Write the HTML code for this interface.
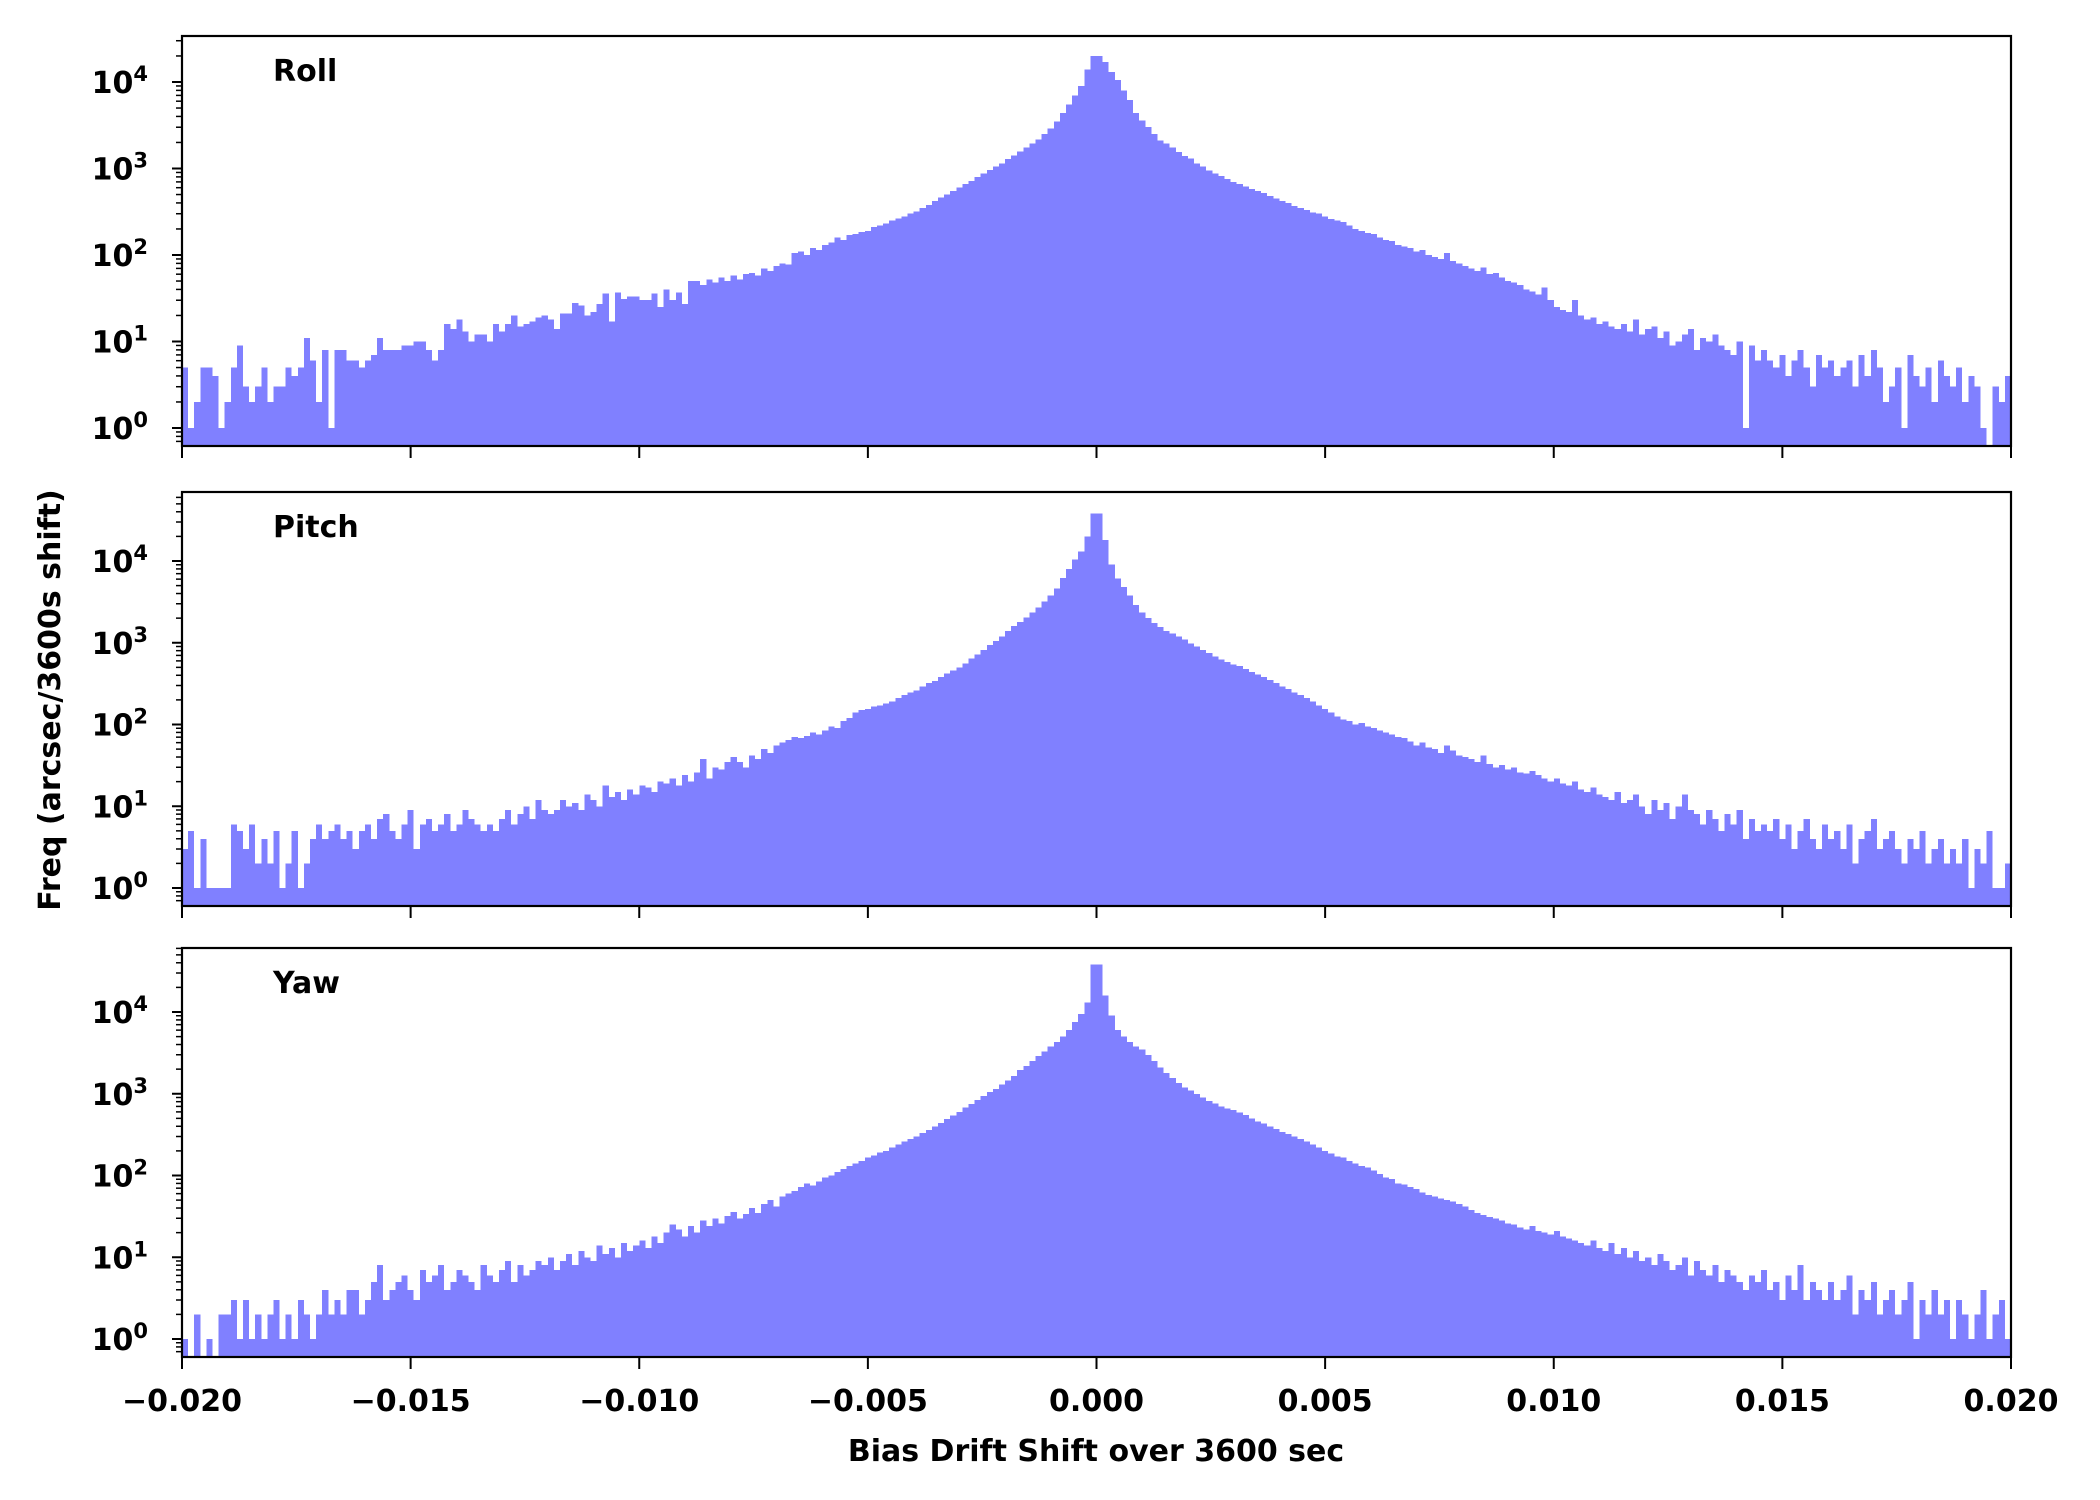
<!DOCTYPE html>
<html><head><meta charset="utf-8"><style>
html,body{margin:0;padding:0;background:#fff}
svg{display:block}
text{font-family:"DejaVu Sans","Liberation Sans",sans-serif;font-weight:bold;fill:#000}
</style></head><body>
<svg id="chart" width="2100" height="1500" viewBox="0 0 2100 1500" xmlns="http://www.w3.org/2000/svg">
<text x="1096" y="1461" font-size="30" text-anchor="middle">Bias Drift Shift over 3600 sec</text>
<text x="0" y="0" font-size="30" text-anchor="middle" transform="translate(60,700) rotate(-90)">Freq (arcsec/3600s shift)</text>
</svg>
<script>
const xTicks = [-0.020,-0.015,-0.010,-0.005,0.000,0.005,0.010,0.015,0.020];
const xTickLabels = ["\u22120.020","\u22120.015","\u22120.010","\u22120.005","0.000","0.005","0.010","0.015","0.020"];
const binCount = 300;
const xMin = -0.02, xMax = 0.02;
const yTickExps = [0,1,2,3,4];
const panelNames = ["Roll","Pitch","Yaw"];
const rollCounts = [5,1,2,5,5,4,1,2,5,9,3,2,3,5,2,3,3,5,4,5,11,6,2,8,1,8,8,6,6,5,6,7,11,8,8,8,9,9,10,10,8,6,8,16,14,18,13,10,12,12,10,16,13,16,20,15,16,17,19,20,18,14,21,21,28,26,20,22,27,36,17,37,31,33,33,30,30,36,25,40,30,37,27,50,50,
45,52,48,55,50,58,52,60,62,58,70,65,75,80,78,
105,110,100,120,115,130,140,160,150,170,175,185,190,210,220,
230,250,265,280,300,320,350,380,420,460,500,550,600,660,720,
800,880,960,1050,1150,1280,1420,1580,1750,1950,2150,2500,2900,3500,4400,
5500,7000,9000,14000,20000,
20000,17000,13000,10500,8000,6200,4400,3600,3000,2500,
2100,1950,1750,1550,1400,1300,1150,1050,950,880,
820,760,700,660,620,580,550,520,480,450,
420,400,370,350,330,310,300,280,260,250,
240,220,200,190,180,175,160,150,145,130,
125,120,110,115,100,95,90,105,85,80,
75,70,65,72,60,62,55,50,48,45,
40,38,35,42,30,25,23,22,30,20,
18,19,16,17,15,14,16,13,18,12,
14,15,11,13,9,10,12,14,8,11,
10,12,9,8,7,10,1,9,6,8,
6,5,7,4,6,8,5,3,7,5,
6,4,5,6,3,7,4,8,5,2,
3,5,1,7,4,3,5,2,6,4,
3,5,2,4,3,1,0,3,2,4];
const pitchCounts = [3,5,1,4,1,1,1,1,6,5,3,6,2,4,2,5,1,2,5,1,2,4,6,4,5,6,4,5,3,5,6,4,7,8,5,4,6,9,3,6,7,5,6,8,5,6,9,7,6,5,6,5,7,9,6,8,10,7,12,9,8,9,12,10,11,9,14,12,10,18,13,15,12,16,14,18,17,15,20,19,22,18,24,20,26,38,22,30,28,35,40,35,30,42,38,50,45,55,60,65,
70,68,72,80,75,85,95,90,110,120,140,150,155,165,170,180,190,210,230,245,260,290,320,340,380,420,460,500,560,640,720,820,940,1050,1200,1400,1600,1800,2050,2350,2700,3200,3800,4600,6200,8000,10500,13000,20000,38000,
38000,18000,9000,6100,4800,3800,2900,2350,2000,1750,1550,1400,1300,1200,1100,980,900,820,750,680,620,580,540,520,480,440,410,380,350,320,290,270,245,230,210,190,170,155,140,125,115,110,100,105,95,90,85,80,75,70,
68,62,55,60,52,50,45,55,48,42,40,38,35,42,33,30,32,28,30,26,25,27,24,22,20,22,19,18,20,16,15,17,14,13,12,15,11,12,14,10,8,12,9,11,7,10,14,9,8,6,9,7,5,8,6,9,4,7,5,6,5,7,4,6,3,5,7,4,3,6,4,5,3,6,2,4,5,7,3,4,5,3,2,4,3,5,2,3,4,2,3,2,4,1,3,2,5,1,1,2];
const yawCounts = [1,0,2,0,1,0,2,2,3,1,3,1,2,1,2,3,1,2,1,3,2,1,2,4,2,3,2,4,4,2,3,5,8,3,4,5,6,4,3,7,5,6,8,4,5,7,6,5,4,8,6,5,7,9,5,8,6,7,9,8,10,7,9,11,8,12,10,9,14,11,13,10,15,12,14,16,13,18,15,20,25,22,18,24,20,28,24,30,26,32,36,30,34,40,35,45,50,42,55,60,
65,72,80,75,85,95,100,110,120,130,140,150,165,175,190,200,220,240,260,280,300,330,360,400,440,490,540,600,680,750,840,940,1050,1150,1300,1450,1650,1950,2200,2500,2900,3300,3800,4300,5000,6000,7500,9500,13000,38000,
38000,16000,9000,6000,5000,4300,3800,3500,3000,2500,2100,1800,1550,1350,1200,1100,1000,900,820,760,700,660,630,590,550,500,460,430,400,370,340,320,300,280,260,240,220,200,185,170,165,150,140,130,125,115,105,95,90,80,
78,72,68,62,58,55,52,50,48,45,42,38,35,33,31,30,28,26,25,23,22,24,21,20,19,21,18,17,16,15,14,16,13,12,15,11,13,10,12,9,10,8,11,9,7,8,10,6,9,7,6,8,5,7,6,5,4,6,5,7,4,5,3,6,4,8,3,5,4,3,5,3,4,6,2,4,3,5,2,3,4,2,3,5,1,3,2,4,2,3,1,3,2,1,2,4,1,2,3,1];

const NS = "http://www.w3.org/2000/svg";
const svg = document.getElementById('chart');
const L = 182, R = 2011;
const panels = [
  {top:36, bottom:446, y0:428, dec:86.5, counts:rollCounts, key:'roll'},
  {top:492, bottom:906, y0:888, dec:81.75, counts:pitchCounts, key:'pitch'},
  {top:948, bottom:1357, y0:1339, dec:81.75, counts:yawCounts, key:'yaw'}
];
function xScale(v){ return L + (v - xMin) / (xMax - xMin) * (R - L); }
function mk(tag, attrs){ const e = document.createElementNS(NS, tag); for (const k in attrs) e.setAttribute(k, attrs[k]); return e; }

panels.forEach((p, pi) => {
  const g = mk('g', {});
  
  
  svg.appendChild(g);
  const yScale = v => p.y0 - Math.log10(v) * p.dec;
  const bw = (xMax - xMin) / binCount;
  let d = '';
  p.counts.forEach((c, i) => {
    if (c <= 0) return;
    const x0 = xScale(xMin + i * bw), x1 = xScale(xMin + (i + 1) * bw);
    const yt = Math.max(yScale(c), p.top);
    d += `M${x0.toFixed(2)},${p.bottom}V${yt.toFixed(2)}H${x1.toFixed(2)}V${p.bottom}Z`;
  });
  const bars = mk('path', {d: d, fill: '#8080ff', 'shape-rendering': 'crispEdges'});
  
  
  g.appendChild(bars);
  const frame = mk('rect', {x: L, y: p.top, width: R - L, height: p.bottom - p.top, fill: 'none', stroke: '#000', 'stroke-width': 2.2});
  
  
  g.appendChild(frame);
  yTickExps.forEach(e => {
    const y = yScale(Math.pow(10, e));
    if (y < p.top - 0.5 || y > p.bottom + 0.5) return;
    g.appendChild(mk('line', {x1: L - 10, x2: L, y1: y, y2: y, stroke: '#000', 'stroke-width': 2}));
    const t = mk('text', {x: 148, y: y + 11, 'font-size': 30, 'text-anchor': 'end'});
    
    
    t.appendChild(document.createTextNode('10'));
    const s = mk('tspan', {dy: -12, 'font-size': 21});
    s.textContent = String(e);
    t.appendChild(s);
    g.appendChild(t);
  });
  for (let e = -1; e <= 5; e++) {
    for (let m = 2; m <= 9; m++) {
      const y = yScale(m * Math.pow(10, e));
      if (y < p.top || y > p.bottom) continue;
      g.appendChild(mk('line', {x1: L - 6, x2: L, y1: y, y2: y, stroke: '#000', 'stroke-width': 1.5}));
    }
  }
  xTicks.forEach((v, k) => {
    const x = xScale(v);
    g.appendChild(mk('line', {x1: x, x2: x, y1: p.bottom, y2: p.bottom + 12, stroke: '#000', 'stroke-width': 2}));
    if (pi === 2) {
      const t = mk('text', {x: x, y: 1411, 'font-size': 30, 'text-anchor': 'middle'});
      
      
      t.textContent = xTickLabels[k];
      g.appendChild(t);
    }
  });
  const lab = mk('text', {x: 273, y: p.top + 45, 'font-size': 30});
  
  
  lab.textContent = panelNames[pi];
  g.appendChild(lab);
});
</script>
</body></html>
